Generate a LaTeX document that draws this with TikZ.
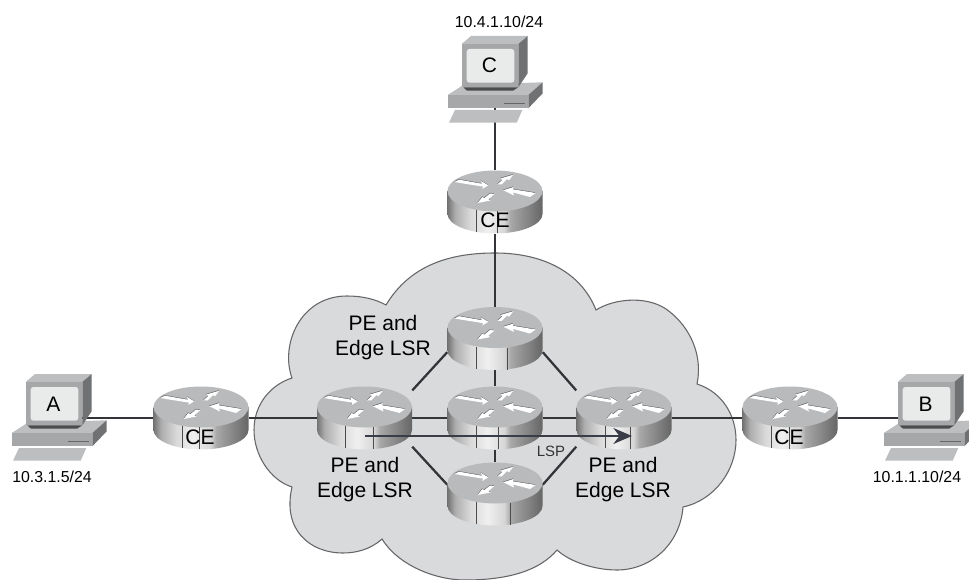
\documentclass[tikz,border=0pt]{standalone}
\usepackage{fontspec}
\setmainfont{Liberation Sans}
\usetikzlibrary{arrows.meta}

\definecolor{cloudfill}{HTML}{D9DADC}
\definecolor{cloudline}{HTML}{666668}
\definecolor{linkcolor}{HTML}{333438}
\definecolor{lspcolor}{HTML}{3A3C48}
\definecolor{routertop}{HTML}{B9BABC}
\definecolor{pcfront}{HTML}{A6A7A9}
\definecolor{pctop}{HTML}{BDBEC0}
\definecolor{pcside}{HTML}{707173}
\definecolor{pcscreen}{HTML}{E9EAEA}

\pgfdeclarehorizontalshading{routerbody}{100bp}{
	color(0bp)=(black!55); color(25bp)=(black!55); color(29bp)=(black!32); color(37bp)=(black!15);
	color(46bp)=(black!6); color(55bp)=(black!16); color(58bp)=(black!34); color(75bp)=(black!60); color(100bp)=(black!60)}

\tikzset{
	routerbox/.style={minimum width=71.25pt, minimum height=47.25pt, inner sep=0pt},
	pcbox/.style={minimum width=72pt, minimum height=66pt, inner sep=0pt},
	link/.style={draw=linkcolor, line width=1.7pt},
	routertip/.style={fill=white, preaction={fill=black!60, transform canvas={shift={(-0.2pt,0.45pt)}}}},
	pics/router/.style={code={
		% Body and top
		\shade[shading=routerbody] (-47.5,-11) -- (-47.5,12) .. controls (-47.5,22.7) and (-26,31.5) .. (0,31.5)
			.. controls (26,31.5) and (47.5,22.7) .. (47.5,12) -- (47.5,-11) -- cycle;
		\fill[routertop] (0,-11) ellipse [x radius=47.5, y radius=20.5];
		\draw[black!70, line width=0.6pt] (-19,8) -- (-19,30);
		\draw[black!70, line width=0.6pt] (#1,9) -- (#1,31);
		% Arrows on top
		\fill[routertip] (-40.7,-20) -- (-36,-22.3) -- (-13.3,-18.3) -- (-14,-21) -- (-6.7,-16.7) -- (-12.7,-13) -- (-12.7,-15.5) -- (-30,-18.2) -- cycle;
		\fill[routertip] (2.5,-17.7) -- (7.3,-22) -- (5.5,-23.5) -- (18.3,-27.3) -- (14,-21.7) -- (12,-23) -- (6.5,-17.5) -- cycle;
		\fill[routertip] (8.3,-11.7) -- (18.3,-15) -- (17.7,-12.7) -- (40.7,-9) -- (35,-5) -- (18.3,-9.5) -- (19,-6.5) -- cycle;
		\fill[routertip] (-0.5,-8) -- (-6.7,-2.8) -- (-4.5,-1.5) -- (-17.3,1) -- (-12.7,-5) -- (-10.7,-3.8) -- (-5,-8.5) -- cycle;
	}},
	pics/pc/.style={code={
		% Base and keyboard
		\fill[pctop] (-40,30) -- (27.3,30) -- (21.7,42.7) -- (-46,42.7) -- cycle;
		\fill[pctop] (-47.3,15) -- (-31.7,5) -- (47.7,2.3) -- (33.3,15) -- cycle;
		\fill[pcside] (33.3,15) -- (47.7,2.3) -- (47.7,13.3) -- (33.3,28.3) -- cycle;
		\fill[pcfront] (-47.3,15) rectangle (33.3,28.3);
		\draw[black!60, line width=0.8pt] (9.3,23.3) -- (30,23.3);
		\fill[black!70] (-31.7,7.3) -- (23.3,7.3) -- (18,10.7) -- (-28,10.7) -- cycle;
		% Monitor
		\fill[pctop] (-33.3,-36) -- (-24,-44) -- (32.7,-44) -- (23.3,-36) -- cycle;
		\fill[pcside] (23.3,-36) -- (32.7,-44) -- (32.7,-6.7) -- (23.3,7.3) -- cycle;
		\fill[pcfront] (-33.3,-36) rectangle (23.3,7.3);
		\fill[pcscreen, rounded corners=2pt] (-28.3,-31) rectangle (19.3,2.7);
	}},
}

\begin{document}
\begin{tikzpicture}[x=0.75pt, y=-0.75pt, every node/.style={font=\fontsize{15.75}{18.75}\selectfont}]
	\useasboundingbox (0,0) rectangle (969,580);
	\fill[white] (0,0) rectangle (969,580);
	\clip (0,0) rectangle (969,580);

	% Cloud
	\draw[fill=cloudfill, draw=cloudline, line width=0.8pt] (386,305)
		.. controls (410,265) and (450,253) .. (495,253)
		.. controls (540,253) and (580,270) .. (596,310)
		.. controls (615,298) and (650,295) .. (670,312)
		.. controls (690,328) and (703,355) .. (697,384)
		.. controls (722,392) and (736,415) .. (736,440)
		.. controls (736,470) and (715,500) .. (683,507)
		.. controls (680,545) and (650,570) .. (617,570)
		.. controls (595,570) and (570,562) .. (557,550)
		.. controls (540,570) and (510,580) .. (465,580)
		.. controls (435,580) and (398,565) .. (382,539)
		.. controls (370,550) and (355,553) .. (343,553)
		.. controls (310,553) and (282,530) .. (292,487)
		.. controls (270,480) and (254,455) .. (254,430)
		.. controls (254,405) and (270,385) .. (292,378)
		.. controls (280,345) and (300,296) .. (347,296)
		.. controls (362,296) and (375,299) .. (386,305) -- cycle;

	% Devices
	\node[pcbox] (pca) at (59,418) {};
	\node[pcbox] (pcb) at (931,418) {};
	\node[pcbox] (pcc) at (495,80) {};
	\node[routerbox] (cea) at (201,418) {};
	\node[routerbox] (ceb) at (790,418) {};
	\node[routerbox] (cec) at (495,202) {};
	\node[routerbox] (peleft) at (364.5,418) {};
	\node[routerbox] (peright) at (624,418) {};
	\node[routerbox] (petop) at (495,338.5) {};
	\node[routerbox] (pemid) at (495,418) {};
	\node[routerbox] (pebot) at (495,494) {};

	% Links
	\draw[link] (pca.center) -- (cea);
	\draw[link] (cea) -- (peleft);
	\draw[link] (peleft) -- (pemid);
	\draw[link] (pemid) -- (peright);
	\draw[link] (peright) -- (ceb);
	\draw[link] (ceb) -- (pcb.center);
	\draw[link] (pcc.center) -- (cec);
	\draw[link] (cec) -- (petop);
	\draw[link] (petop) -- (pemid);
	\draw[link] (pemid) -- (pebot);
	\draw[link] (peleft.30) -- (petop.196);
	\draw[link] (petop.-16) -- (peright.150);
	\draw[link] (peleft.-31) -- (pebot.169);
	\draw[link] (pebot.11) -- (peright.211);

	% Routers and hosts
	\pic at (cea) {router=-2};
	\pic at (ceb) {router=-1};
	\pic at (cec) {router=2};
	\pic at (peleft) {router=9};
	\pic at (peright) {router=6};
	\pic at (petop) {router=12};
	\pic at (pemid) {router=3};
	\pic at (pebot) {router=15};
	\pic at (pca) {pc};
	\pic at (pcb) {pc};
	\pic at (pcc) {pc};

	% LSP
	\coordinate (lspstart) at (365,436);
	\coordinate (lspend) at (632,436);
	\draw[-{Stealth[length=14pt, width=12pt]}, draw=lspcolor, fill=lspcolor, line width=1.3pt] (lspstart) -- (lspend);
	\node[font=\fontsize{11.2}{13}\selectfont, text=black!80] (lsplabel) at (551,451) {LSP};

	% Labels
	\node (lettera) at (53.5,404) {A};
	\node (letterb) at (925.5,404) {B};
	\node (letterc) at (489.5,65) {C};
	\node (labela) at (200,437) {CE};
	\node (labelb) at (789,437) {CE};
	\node (labelc) at (495,220) {CE};
	\node[align=center] (labeltop) at (383,337.5) {PE and\\Edge LSR};
	\node[align=center] (labelleft) at (365,479.5) {PE and\\Edge LSR};
	\node[align=center] (labelright) at (623,480) {PE and\\Edge LSR};
	\node[font=\fontsize{11.9}{14}\selectfont] (ipa) at (52,477) {10.3.1.5/24};
	\node[font=\fontsize{11.9}{14}\selectfont] (ipb) at (917,477) {10.1.1.10/24};
	\node[font=\fontsize{11.9}{14}\selectfont] (ipc) at (499,22) {10.4.1.10/24};
\end{tikzpicture}
\end{document}
